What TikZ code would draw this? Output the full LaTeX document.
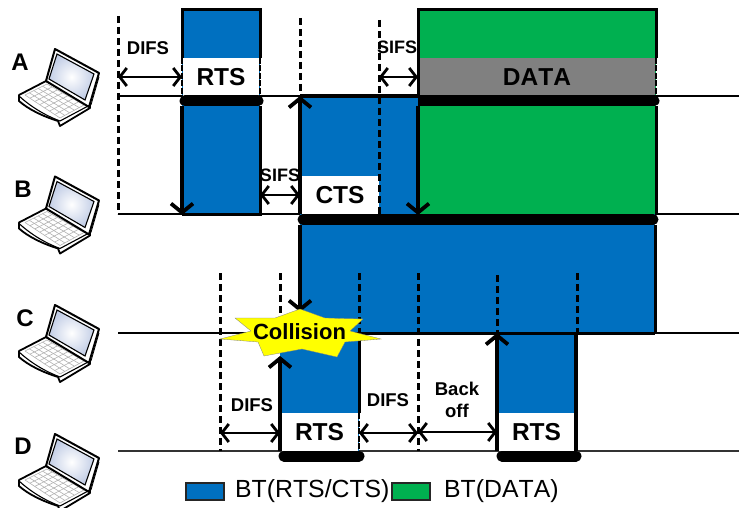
\documentclass[tikz,border=0pt]{standalone}
\usepackage{fontspec}
\setmainfont[Kerning=Off]{Liberation Sans}
\usetikzlibrary{arrows.meta,calc}
\definecolor{btblue}{HTML}{0070C0}
\definecolor{btgreen}{HTML}{00B050}
\definecolor{btgrey}{HTML}{808080}
\definecolor{stary}{HTML}{FFFF00}
\definecolor{screenb}{HTML}{C3CEE6}
\newcommand{\fsz}[1]{\fontsize{#1}{#1}\selectfont}
\tikzset{
  x=1pt,y=-1pt,
  lbl/.style={inner sep=0pt,font=\fsz{18.500}\bfseries,text=black},
  station/.style={inner sep=0pt,font=\fsz{24}\bfseries},
  band/.style={inner sep=0pt,fill=white,font=\fsz{24.500}\bfseries,text=black,minimum height=38pt},
  timeline/.style={draw=black,line width=2.2pt},
  guide/.style={draw=black,line width=3pt,dash pattern=on 7pt off 4pt},
  edge/.style={draw=black,line width=3pt},
  sideDash/.style={draw=black,line width=1.6pt,dash pattern=on 6pt off 1.5pt},
  bar/.style={draw=black,line width=11pt,line cap=round},
  upArrow/.style={draw=black,line width=4.6pt,-{Straight Barb[length=9pt,width=22pt,line width=3.8pt]}},
  span/.style={draw=black,line width=2.8pt,{Straight Barb[length=7pt,width=18pt,line width=2.8pt]}-{Straight Barb[length=7pt,width=18pt,line width=2.8pt]}},
  legendbox/.style={draw=black!85,line width=2.4pt,minimum width=38pt,minimum height=17pt,inner sep=0pt},
  legendtext/.style={inner sep=0pt,anchor=west,font=\fsz{24.800},text=black},
  laptop/.pic={
    \draw[black,line width=1.8pt,fill=white,line join=round] (19,95) -- (46,81) -- (90,105) -- (90,108) -- (60,126) -- (58,121) .. controls (42,116) and (28,109) .. (19,101) -- cycle;
    \draw[black,line width=1.1pt] (19,96) .. controls (30,106) and (44,115) .. (60,121) -- (90,105);
    \coordinate (L) at (25,95); \coordinate (B) at (47,84); \coordinate (R) at (84,105); \coordinate (F) at (60,118);
    \foreach \t in {0,0.2,0.4,0.6,0.8,1}{
      \draw[black!30,line width=.6pt] ($(L)!\t!(B)$) -- ($(F)!\t!(R)$);
    }
    \foreach \t in {0,0.14,0.28,0.42,0.56,0.7,0.85,1}{
      \draw[black!30,line width=.6pt] ($(L)!\t!(F)$) -- ($(B)!\t!(R)$);
    }
    \draw[black,line width=2pt,fill=white,line join=round] (46,81) -- (55,49) -- (99,73) -- (89,107) -- cycle;
    \shade[inner color=white,outer color=screenb,draw=black,line width=1.1pt] (49,79) -- (57,54) -- (94,74) -- (85,100) -- cycle;
    \draw[black,line width=.8pt] (91,105) -- (99,77);
  }
}
\begin{document}
\begin{tikzpicture}
\useasboundingbox (0,0) rectangle (739,508);
\foreach \n/\x/\y in {
  la/118/96,lae/739/96,lb/118/214,lbe/739/214,lc/118/333,lce/739/333,ld/118/451,lde/739/451,
  gA1/118/16,gA2/118/214,gA3/300/18,gA4/300/96,gA5/379/20,gA6/379/214,
  gC1/220/273,gC2/220/451,gC3/280/273,gC4/280/316,gC5/359/273,gC6/359/333,gC7/418/273,gC8/418/451,
  gC9/497/275,gC10/497/333,gC11/577/273,gC12/577/333,
  ua1/182/106,ua2/182/215,ub1/300/214,ub2/300/96,ud1/418/106,ud2/418/215,uc1/300/225,uc2/300/312,
  ue1/280/451,ue2/280/356,uf1/497/451,uf2/497/333,
  s1a/118/77,s1b/182/77,s2a/260/195,s2b/300/195,s3a/379/77,s3b/418/77,
  s4a/220/433,s4b/280/433,s5a/359/433,s5b/418/433,s6a/418/432,s6b/497/432}
  {\coordinate (\n) at (\x,\y);}
\draw[timeline] (la) -- (lae);
\draw[timeline,line width=1.8pt] (lb) -- (lbe);
\draw[timeline] (lc) -- (lce);
\draw[timeline,line width=1.8pt,black!80] (ld) -- (lde);
\fill[btblue] (182,10) rectangle (260,96);
\fill[btblue] (182,96) rectangle (260,214);
\fill[btblue] (300,96) rectangle (418,214);
\fill[btblue] (300,214) rectangle (655,333);
\fill[btgreen] (418,10) rectangle (656,214);
\fill[btblue] (280,333) rectangle (359,451);
\fill[btblue] (497,333) rectangle (576,451);
\node[band,minimum width=76pt] (rtsA) at (221,77) {RTS};
\node[band,minimum width=77pt] (ctsB) at (340,195) {CTS};
\node[band,fill=btgrey,minimum width=236pt] (dataA) at (537,77) {DATA};
\node[band,minimum width=77pt] (rtsD) at (319.500,432) {RTS};
\node[band,minimum width=77pt] (rtsE) at (536.500,432) {RTS};
\draw[edge,line join=miter] (182,58) -- (182,10) -- (260,10) -- (260,58);
\draw[sideDash] (182,58) -- (182,96);
\draw[sideDash] (260,58) -- (260,96);
\draw[edge] (260,106) -- (260,214) -- (182,214);
\draw[edge,line width=3.6pt] (300,96) -- (418,96);
\draw[edge,line join=miter] (418,58) -- (418,10) -- (656,10) -- (656,58);
\draw[sideDash] (656,58) -- (656,96);
\draw[edge] (418,96) -- (418,58);
\draw[edge] (656,106) -- (656,214);
\draw[edge] (655,225) -- (655,334);
\draw[edge] (300,333) -- (655,333);
\draw[edge] (359,333) -- (359,413);
\draw[sideDash] (359,413) -- (359,451);
\draw[edge,line width=3.6pt] (576,333) -- (576,451);
\draw[bar] (185,101) -- (258,101);
\draw[bar,line cap=butt] (418,101) -- (655,101);
\draw[bar] (653,101) -- (654,101);
\draw[bar] (303,219.500) -- (653,219.500);
\draw[bar] (284,456) -- (359,456);
\draw[bar] (502,456) -- (576,456);
\draw[guide] (gA1) -- (gA2);
\draw[guide] (gA3) -- (gA4);
\draw[guide] (gA5) -- (gA6);
\draw[guide] (gC1) -- (gC2);
\draw[guide] (gC3) -- (gC4);
\draw[guide] (gC5) -- (gC6);
\draw[guide] (gC7) -- (gC8);
\draw[guide] (gC9) -- (gC10);
\draw[guide] (gC11) -- (gC12);
\draw[upArrow] (ua1) -- (ua2);
\draw[upArrow] (ub1) -- (ub2);
\draw[upArrow,line width=3.6pt] (ud1) -- (ud2);
\draw[upArrow] (uc1) -- (uc2);
\draw[upArrow] (ue1) -- (ue2);
\draw[upArrow] (uf1) -- (uf2);
\draw[span] (s1a) -- (s1b);
\draw[span] (s2a) -- (s2b);
\draw[span] (s3a) -- (s3b);
\draw[span] (s4a) -- (s4b);
\draw[span] (s5a) -- (s5b);
\draw[span] (s6a) -- (s6b);
\node[lbl] (dA) at (148,48) {DIFS};
\node[lbl,font=\fsz{18}\bfseries] (sB) at (280,175) {SIFS};
\node[lbl,font=\fsz{18}\bfseries] (sA) at (397,47) {SIFS};
\node[lbl] (dD) at (252,405) {DIFS};
\node[lbl] (dE) at (388,400) {DIFS};
\node[lbl,align=center] (bo) at (457,400) {\fsz{18.500}\bfseries Back\\[3.500pt]\fsz{18.500}\bfseries off};
\fill[stary,draw=black!50,line width=.3pt] (220,339) -- (251,331) -- (235,318) -- (275,318) -- (300,309) -- (325,318) -- (363,319) -- (350,331) -- (381,339) -- (345,342) -- (337,357) -- (302,349) -- (264,356) -- (258,342) -- cycle;
\node[inner sep=0pt,font=\fsz{22}\bfseries,text=black] (col) at (299.500,332) {Collision};
\node[station] (A) at (20,62) {A};
\node[station] (B) at (23,189) {B};
\node[station] (C) at (25,318) {C};
\node[station] (D) at (23,446) {D};
\pic (pa) at (0,0) {laptop};
\pic (pb) at (0,127.500) {laptop};
\pic (pc) at (0,256) {laptop};
\pic (pd) at (0,385) {laptop};
\node[legendbox,fill=btblue] (lgb) at (205,491.500) {};
\node[legendtext] (lgbt) at (235,491) {BT(RTS/CTS)};
\node[legendbox,fill=btgreen] (lgg) at (411,491.500) {};
\node[legendtext] (lggt) at (444,491) {BT(DATA)};
\end{tikzpicture}
\end{document}
